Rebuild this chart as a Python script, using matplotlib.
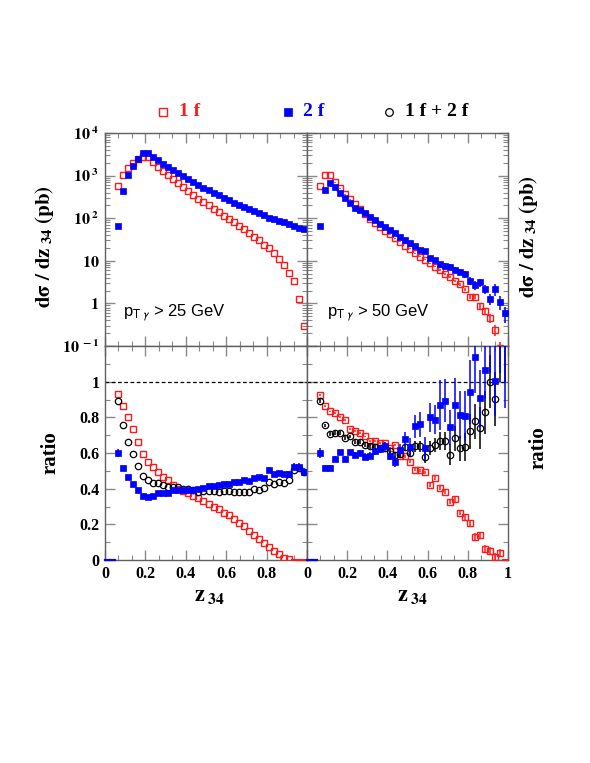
import numpy as np
import matplotlib
matplotlib.use("Agg")
import matplotlib.pyplot as plt
from matplotlib.ticker import MultipleLocator, FixedLocator, FixedFormatter, NullFormatter
from matplotlib.lines import Line2D

plt.rcParams['font.family'] = ['Liberation Serif', 'DejaVu Serif']
plt.rcParams['mathtext.fontset'] = 'stix'

# bin centres in z_34 (bin width 0.025)
z34 = [0.0125, 0.0375, 0.0625, 0.0875, 0.1125, 0.1375, 0.1625, 0.1875, 0.2125, 0.2375,
       0.2625, 0.2875, 0.3125, 0.3375, 0.3625, 0.3875, 0.4125, 0.4375, 0.4625, 0.4875,
       0.5125, 0.5375, 0.5625, 0.5875, 0.6125, 0.6375, 0.6625, 0.6875, 0.7125, 0.7375,
       0.7625, 0.7875, 0.8125, 0.8375, 0.8625, 0.8875, 0.9125, 0.9375, 0.9625, 0.9875]
half_bin = 0.0125

# d sigma / dz34 (pb), pT_gamma > 25 GeV
xs25_1f = [0, 0, 573, 1037, 1540, 2020, 2510, 2785, 2690, 2090,
           1625, 1310, 1055, 850, 685, 552, 445, 352, 289, 241,
           202, 162, 141, 115, 95, 81, 66, 55, 46, 37,
           30, 24, 19.5, 15.1, 11, 7.8, 5.1, 3.3, 1.29, 0.30]
xs25_2f = [0, 0, 66, 446, 1018, 1690, 2510, 3340, 3340, 2785,
           2290, 1910, 1625, 1360, 1135, 980, 850, 710, 605, 523,
           461, 400, 346, 305, 269, 233, 209, 181, 163, 146,
           131, 117, 102, 98, 88, 82, 74, 66, 60, 56]

# d sigma / dz34 (pb), pT_gamma > 50 GeV
xs50_1f = [0, 0, 570, 1050, 1050, 695, 500, 363, 277, 212,
           162, 123, 94, 76, 63, 50, 42, 34, 28, 22.3,
           19, 15, 12.5, 10.5, 8.7, 7.3, 6.1, 4.9, 4.2, 3.4,
           2.8, 2.14, 1.44, 1.44, 0.87, 0.66, 0.45, 0.24, 0.09, 0]
xs50_1f_rel = [0, 0, 0.01, 0.01, 0.01, 0.01, 0.01, 0.01, 0.01, 0.01,
               0.01, 0.01, 0.01, 0.01, 0.01, 0.01, 0.02, 0.02, 0.02, 0.02,
               0.03, 0.03, 0.03, 0.03, 0.04, 0.04, 0.05, 0.05, 0.06, 0.07,
               0.08, 0.09, 0.1, 0.12, 0.15, 0.2, 0.25, 0.3, 0.4, 0]
xs50_2f = [0, 0, 67, 459, 658, 531, 384, 292, 223, 177,
           156, 130, 109, 91, 72, 61, 53, 44, 37, 30,
           26.7, 22.3, 18, 17.3, 11.5, 10.5, 8.5, 7.6, 7.3, 6.1,
           5.6, 4.9, 3.4, 2.7, 3.1, 2.2, 1.3, 2.15, 1.1, 0.58]
xs50_2f_rel = [0, 0, 0.05, 0.02, 0.02, 0.02, 0.02, 0.02, 0.02, 0.03,
               0.03, 0.03, 0.04, 0.04, 0.05, 0.05, 0.06, 0.06, 0.07, 0.08,
               0.08, 0.09, 0.1, 0.1, 0.12, 0.12, 0.13, 0.14, 0.15, 0.16,
               0.17, 0.18, 0.2, 0.22, 0.22, 0.25, 0.3, 0.3, 0.35, 0.4]

# ratios, pT_gamma > 25 GeV
r25_1f = [0, 0, 0.93, 0.865, 0.80, 0.736, 0.659, 0.594, 0.547, 0.52,
          0.496, 0.468, 0.446, 0.421, 0.40, 0.385, 0.375, 0.36, 0.345, 0.33,
          0.315, 0.30, 0.285, 0.265, 0.25, 0.23, 0.21, 0.19, 0.16, 0.14,
          0.12, 0.095, 0.071, 0.052, 0.034, 0.012, 0.003, 0, 0, 0]
r25_2f = [0, 0, 0.60, 0.515, 0.463, 0.427, 0.393, 0.361, 0.356, 0.361,
          0.375, 0.375, 0.375, 0.39, 0.39, 0.393, 0.393, 0.39, 0.397, 0.403,
          0.416, 0.416, 0.42, 0.427, 0.427, 0.438, 0.438, 0.446, 0.444, 0.459,
          0.468, 0.459, 0.506, 0.483, 0.487, 0.48, 0.483, 0.524, 0.524, 0.496]
r25_2f_err = [0, 0, 0.025, 0.006, 0.005, 0.005, 0.005, 0.005, 0.005, 0.005,
              0.005, 0.005, 0.005, 0.005, 0.005, 0.005, 0.005, 0.005, 0.005, 0.005,
              0.006, 0.006, 0.006, 0.007, 0.007, 0.007, 0.008, 0.008, 0.009, 0.01,
              0.01, 0.011, 0.015, 0.013, 0.014, 0.015, 0.016, 0.022, 0.022, 0.022]
r25_12f = [0, 0, 0.893, 0.755, 0.661, 0.596, 0.528, 0.472, 0.446, 0.431,
           0.431, 0.418, 0.412, 0.412, 0.412, 0.40, 0.397, 0.39, 0.384, 0.388,
           0.386, 0.388, 0.384, 0.388, 0.386, 0.382, 0.382, 0.384, 0.384, 0.397,
           0.39, 0.403, 0.44, 0.427, 0.44, 0.434, 0.449, 0.506, 0.515, 0.496]

# ratios, pT_gamma > 50 GeV
r50_1f = [0, 0, 0.927, 0.865, 0.833, 0.824, 0.80, 0.787, 0.736, 0.725,
          0.712, 0.693, 0.669, 0.669, 0.655, 0.655, 0.627, 0.646, 0.581, 0.581,
          0.552, 0.506, 0.502, 0.491, 0.421, 0.459, 0.403, 0.384, 0.328, 0.341,
          0.266, 0.243, 0.21, 0.131, 0.14, 0.062, 0.051, 0.019, 0.041, 0]
r50_1f_err = [0, 0, 0.005, 0.005, 0.005, 0.005, 0.005, 0.005, 0.005, 0.005,
              0.005, 0.005, 0.006, 0.006, 0.006, 0.007, 0.007, 0.007, 0.008, 0.008,
              0.009, 0.009, 0.01, 0.01, 0.011, 0.012, 0.012, 0.013, 0.014, 0.015,
              0.015, 0.016, 0.017, 0.018, 0.018, 0.02, 0.02, 0.02, 0.022, 0]
r50_2f = [0, 0, 0.60, 0.515, 0.515, 0.566, 0.603, 0.566, 0.603, 0.59,
          0.60, 0.58, 0.584, 0.609, 0.622, 0.637, 0.584, 0.552, 0.618, 0.678,
          0.633, 0.749, 0.762, 0.627, 0.80, 0.787, 0.871, 0.893, 0.743, 0.871,
          0.815, 0.805, 0.94, 1.139, 0.908, 1.064, 1.35, 1.006, 1.4, 1.3]
r50_2f_err = [0, 0, 0.03, 0.015, 0.015, 0.015, 0.015, 0.015, 0.015, 0.015,
              0.018, 0.018, 0.02, 0.02, 0.022, 0.025, 0.025, 0.03, 0.035, 0.04,
              0.05, 0.065, 0.07, 0.06, 0.08, 0.08, 0.14, 0.12, 0.1, 0.15,
              0.13, 0.14, 0.18, 0.2, 0.16, 0.16, 0.3, 0.2, 0.35, 0.45]
r50_12f = [0, 0, 0.893, 0.755, 0.708, 0.712, 0.712, 0.684, 0.693, 0.661,
           0.661, 0.646, 0.637, 0.633, 0.627, 0.63, 0.609, 0.59, 0.596, 0.633,
           0.60, 0.637, 0.637, 0.577, 0.627, 0.646, 0.669, 0.669, 0.59, 0.684,
           0.627, 0.633, 0.721, 0.777, 0.74, 0.828, 1.0, 0.903, 1.25, 1.3]
r50_12f_err = [0, 0, 0.01, 0.01, 0.01, 0.01, 0.01, 0.01, 0.01, 0.01,
               0.01, 0.01, 0.012, 0.012, 0.015, 0.015, 0.015, 0.018, 0.02, 0.02,
               0.025, 0.03, 0.03, 0.035, 0.04, 0.04, 0.05, 0.05, 0.06, 0.07,
               0.07, 0.08, 0.1, 0.1, 0.12, 0.12, 0.15, 0.15, 0.25, 0.3]

red = '#ff1a1a'
blue = '#0000ff'
red_style = dict(marker='s', ms=4.8, mfc='none', mec=red, mew=1.0, color=red)
blue_style = dict(marker='s', ms=4.2, mfc=blue, mec=blue, mew=0.5, color=blue)
black_style = dict(marker='o', ms=4.6, mfc='none', mec='black', mew=0.9, color='black')

W, H = 590, 763
fig = plt.figure(figsize=(W / 100, H / 100), dpi=100)
x0, xm, x1 = 105 / W, 307 / W, 508 / W
yt, ym, yb = 1 - 133 / H, 1 - 346 / H, 1 - 560 / H
ax_tl = fig.add_axes([x0, ym, xm - x0, yt - ym])
ax_tr = fig.add_axes([xm, ym, x1 - xm, yt - ym])
ax_bl = fig.add_axes([x0, yb, xm - x0, ym - yb])
ax_br = fig.add_axes([xm, yb, x1 - xm, ym - yb])

z = np.array(z34)


def draw(ax, vals, errs, style, log, zero_line=False, zo=3):
    v = np.array(vals, dtype=float)
    e = np.zeros_like(v) if errs is None else np.array(errs, dtype=float)
    if log:
        e = v * e
    ok = v > 0
    ax.errorbar(z[ok], v[ok], yerr=e[ok], fmt='none', ecolor=style['color'],
                elinewidth=1.1, capsize=0, zorder=zo)
    ax.plot(z[ok], v[ok], ls='none', zorder=zo + 0.1, **style)
    if zero_line:
        for zz in z[~ok]:
            ax.plot([zz - half_bin, zz + half_bin], [0, 0], color=style['color'],
                    lw=1.5, zorder=zo, clip_on=False)


draw(ax_tl, xs25_1f, None, red_style, True)
draw(ax_tl, xs25_2f, None, blue_style, True)
draw(ax_tr, xs50_1f, xs50_1f_rel, red_style, True)
draw(ax_tr, xs50_2f, xs50_2f_rel, blue_style, True)

draw(ax_bl, r25_1f, None, red_style, False, True, 3)
draw(ax_bl, r25_12f, None, black_style, False, False, 4)
draw(ax_bl, r25_2f, r25_2f_err, blue_style, False, True, 5)
draw(ax_br, r50_1f, r50_1f_err, red_style, False, True, 3)
draw(ax_br, r50_12f, r50_12f_err, black_style, False, False, 4)
draw(ax_br, r50_2f, r50_2f_err, blue_style, False, True, 5)

tick_col = '#8a8a8a'
for ax in (ax_tl, ax_tr, ax_bl, ax_br):
    ax.set_xlim(0, 1)
    ax.xaxis.set_major_locator(MultipleLocator(0.2))
    ax.xaxis.set_minor_locator(MultipleLocator(0.2 / 3))
    ax.tick_params(which='both', direction='in', top=True, right=True,
                   color=tick_col, labelsize=11.5, pad=4)
    ax.tick_params(which='major', length=7, width=1)
    ax.tick_params(which='minor', length=3.5, width=0.8)
    for s in ax.spines.values():
        s.set_color('#606060')
        s.set_linewidth(1.0)

for ax in (ax_tl, ax_tr):
    ax.set_yscale('log')
    ax.set_ylim(0.1, 1e4)
    ax.xaxis.set_major_formatter(NullFormatter())
    ax.yaxis.set_minor_formatter(NullFormatter())

ax_tl.yaxis.set_major_locator(FixedLocator([0.1, 1, 10, 100, 1000, 10000]))
ax_tl.yaxis.set_major_formatter(FixedFormatter(
    [r'$\mathbf{10}^{\mathbf{\ -1}}$', r'$\mathbf{1}$', r'$\mathbf{10}$',
     r'$\mathbf{10}^{\mathbf{\ 2}}$', r'$\mathbf{10}^{\mathbf{\ 3}}$',
     r'$\mathbf{10}^{\mathbf{\ 4}}$']))
ax_tr.yaxis.set_major_formatter(NullFormatter())

for ax in (ax_bl, ax_br):
    ax.set_ylim(0, 1.2)
    ax.yaxis.set_major_locator(MultipleLocator(0.2))
    ax.yaxis.set_minor_locator(MultipleLocator(0.1))
    ax.axhline(1.0, color='black', lw=0.9, ls=(0, (3, 2)), zorder=2)

ax_bl.yaxis.set_major_locator(FixedLocator([0, 0.2, 0.4, 0.6, 0.8, 1.0]))
ax_bl.yaxis.set_major_formatter(FixedFormatter(['0', '0.2', '0.4', '0.6', '0.8', '1']))
ax_br.yaxis.set_major_formatter(NullFormatter())
ax_bl.xaxis.set_major_locator(FixedLocator([0, 0.2, 0.4, 0.6, 0.8, 1.0]))
ax_bl.xaxis.set_major_formatter(FixedFormatter(['0', '0.2', '0.4', '0.6', '0.8', '']))
ax_br.xaxis.set_major_locator(FixedLocator([0, 0.2, 0.4, 0.6, 0.8, 1.0]))
ax_br.xaxis.set_major_formatter(FixedFormatter(['0', '0.2', '0.4', '0.6', '0.8', '1']))
for ax in (ax_bl, ax_br, ax_tl):
    for lab in ax.get_xticklabels() + ax.get_yticklabels():
        lab.set_fontweight('bold')

# axis titles
ylab_xs = r'$\mathbf{d\sigma\ /\ dz}_{\mathbf{\ 34}}\ \mathbf{(pb)}$'
fig.text(45 / W, 1 - 247 / H, ylab_xs, rotation=90, ha='center', va='center', fontsize=15)
fig.text(528 / W, 1 - 237 / H, ylab_xs, rotation=90, ha='center', va='center', fontsize=15)
fig.text(50 / W, 1 - 453 / H, 'ratio', rotation=90, ha='center', va='center',
         fontsize=15, fontweight='bold')
fig.text(539 / W, 1 - 448 / H, 'ratio', rotation=90, ha='center', va='center',
         fontsize=15, fontweight='bold')
zlab = r'$\mathbf{z}_{\mathbf{\ 34}}$'
fig.text(210 / W, 1 - 597 / H, zlab, ha='center', va='center', fontsize=16)
fig.text(413 / W, 1 - 597 / H, zlab, ha='center', va='center', fontsize=16)

# pT cut labels
ax_tl.text(0.09, 0.155, r'p$_{\mathrm{T}\ \gamma}$ > 25 GeV', transform=ax_tl.transAxes,
           fontsize=12, family='Liberation Sans', math_fontfamily='stixsans', va='center')
ax_tr.text(0.10, 0.155, r'p$_{\mathrm{T}\ \gamma}$ > 50 GeV', transform=ax_tr.transAxes,
           fontsize=12, family='Liberation Sans', math_fontfamily='stixsans', va='center')

# legend above the panels
ly = 1 - 112 / H
fig.add_artist(Line2D([163 / W], [ly], ls='none', **{**red_style, 'ms': 6}))
fig.text(179 / W, ly, '1 f', color=red, fontsize=14, fontweight='bold', va='center')
fig.add_artist(Line2D([288 / W], [ly], ls='none', **{**blue_style, 'ms': 5.5}))
fig.text(303 / W, ly, '2 f', color=blue, fontsize=14, fontweight='bold', va='center')
fig.add_artist(Line2D([389 / W], [ly], ls='none', **{**black_style, 'ms': 5.5}))
fig.text(405 / W, ly, '1 f + 2 f', color='black', fontsize=14, fontweight='bold', va='center')

fig.savefig('out.png', dpi=100)
